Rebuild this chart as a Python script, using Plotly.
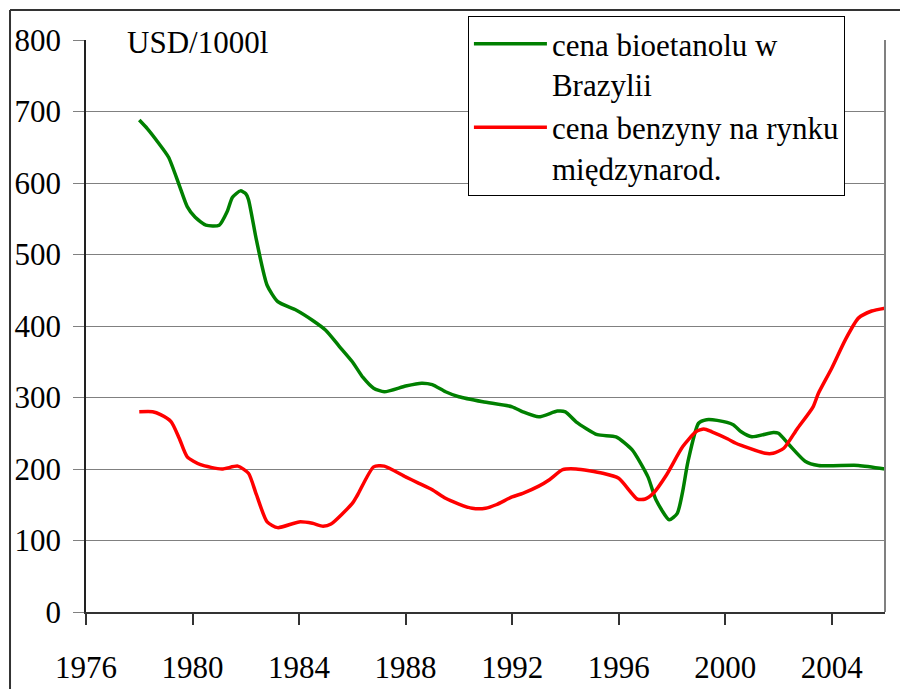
import plotly.graph_objects as go

# Brazilian bioethanol price vs international gasoline price (USD per 1000 l)
YEARS_BIO = [1978.0, 1978.3, 1978.7, 1979.1, 1979.5, 1979.8, 1980.1, 1980.5, 1981.0, 1981.3,
             1981.5, 1981.8, 1982.0, 1982.1, 1982.4, 1982.8, 1983.2, 1983.9, 1984.5, 1985.0,
             1985.5, 1986.0, 1986.4, 1986.8, 1987.2, 1988.0, 1988.6, 1989.0, 1989.5, 1990.0,
             1990.9, 1992.0, 1992.4, 1993.0, 1993.7, 1994.0, 1994.4, 1995.2, 1995.9, 1996.5,
             1997.1, 1997.4, 1997.9, 1998.2, 1998.4, 1998.6, 1999.0, 1999.3, 1999.7, 2000.3,
             2000.6, 2001.0, 2001.8, 2002.0, 2002.4, 2003.0, 2003.5, 2005.0, 2006.0]
PRICE_BIO = [688, 676, 657, 636, 597, 567, 552, 541, 541, 560,
             580, 589, 585, 577, 520, 457, 434, 422, 408, 394,
             372, 350, 328, 313, 308, 316, 320, 318, 308, 301,
             294, 287, 280, 273, 281, 280, 266, 248, 245, 227,
             189, 157, 129, 138, 168, 210, 264, 269, 268, 262,
             252, 245, 251, 250, 234, 211, 205, 205, 200]

YEARS_GAS = [1978.0, 1978.5, 1978.8, 1979.2, 1979.5, 1979.8, 1980.3, 1981.1, 1981.7, 1982.1,
             1982.4, 1982.8, 1983.2, 1984.0, 1984.5, 1984.9, 1985.2, 1986.0, 1986.2, 1986.8,
             1987.2, 1988.0, 1988.5, 1989.0, 1989.5, 1990.0, 1990.5, 1991.0, 1991.4, 1992.0,
             1992.4, 1993.0, 1993.4, 1993.9, 1994.4, 1995.4, 1996.0, 1996.7, 1997.0, 1997.3,
             1997.8, 1998.4, 1998.9, 1999.2, 1999.5, 2000.1, 2000.4, 2001.5, 2001.8, 2002.2,
             2002.7, 2003.3, 2003.5, 2004.0, 2004.5, 2005.0, 2005.5, 2006.0]
PRICE_GAS = [280, 280, 276, 266, 243, 217, 206, 200, 204, 194,
             164, 126, 118, 126, 124, 120, 123, 152, 164, 203,
             204, 189, 180, 171, 159, 151, 145, 145, 150, 161,
             166, 176, 185, 199, 200, 194, 187, 158, 158, 166,
             192, 231, 252, 256, 252, 242, 236, 222, 222, 229,
             256, 287, 306, 341, 380, 411, 421, 425]

NAMES = ["cena bioetanolu w<br>Brazylii", "cena benzyny na rynku<br>międzynarod."]
COLORS = ["#008000", "#FF0000"]

FONT = "Liberation Serif"
SIZE = 31

fig = go.Figure()
fig.add_trace(go.Scatter(x=YEARS_BIO, y=PRICE_BIO, mode="lines", name=NAMES[0],
                         line=dict(color=COLORS[0], width=3.5, shape="spline", smoothing=0.6)))
fig.add_trace(go.Scatter(x=YEARS_GAS, y=PRICE_GAS, mode="lines", name=NAMES[1],
                         line=dict(color=COLORS[1], width=3.5, shape="spline", smoothing=0.6)))

# the page body adds an 8px offset, so the figure is 8px smaller and margins shifted
fig.update_layout(
    width=900, height=681,
    margin=dict(l=78, r=23, t=32, b=77, autoexpand=False),
    paper_bgcolor="white",
    plot_bgcolor="white",
    font=dict(family=FONT, size=SIZE, color="black"),
    legend=dict(
        x=0.478, y=1.042, xanchor="left", yanchor="top",
        bgcolor="white", bordercolor="black", borderwidth=1,
        font=dict(family=FONT, size=SIZE, color="black"),
        valign="top", tracegroupgap=4, itemwidth=73,
    ),
)

# Axes
fig.update_xaxes(
    range=[1976, 2006], tick0=1976, dtick=4,
    showgrid=False, zeroline=False, automargin=False,
    showline=True, linecolor="#333", linewidth=1.5,
    ticks="outside", ticklen=11, tickcolor="#333", tickwidth=1.5,
    ticklabelstandoff=16,
)
fig.update_yaxes(
    range=[0, 800], dtick=100,
    showgrid=True, gridcolor="#808080", gridwidth=1.2,
    zeroline=False, automargin=False,
    showline=True, linecolor="#222", linewidth=1.5,
    ticks="outside", ticklen=11, tickcolor="#808080", tickwidth=1.2,
    ticklabelstandoff=6,
)

# Gray right border of the plot area
fig.add_shape(type="line", xref="paper", yref="paper", x0=1, x1=1, y0=0, y1=1,
              line=dict(color="#808080", width=2))

# Outer frame (top and left edges)
fig.add_shape(type="line", xref="paper", yref="paper", x0=-0.0951, x1=1.05, y0=1.0524, y1=1.0524,
              line=dict(color="#333", width=2))
fig.add_shape(type="line", xref="paper", yref="paper", x0=-0.0951, x1=-0.0951, y0=-0.16, y1=1.0524,
              line=dict(color="#333", width=2))

# Unit label sitting on the top gridline
fig.add_annotation(text="USD/1000l", xref="paper", yref="paper", x=0.140, y=0.9965,
                   xanchor="center", yanchor="middle",
                   showarrow=False, bgcolor="white", borderpad=4,
                   font=dict(family=FONT, size=SIZE, color="black"))

fig.write_html("out.html")
